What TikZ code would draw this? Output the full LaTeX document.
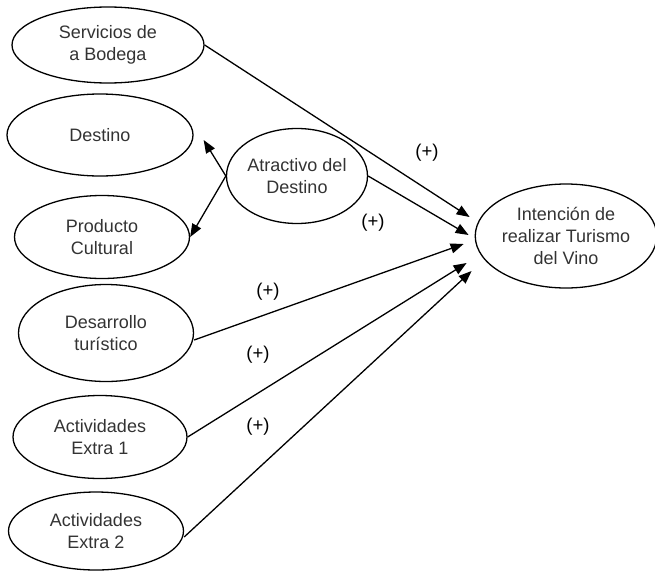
\documentclass[tikz,border=0pt]{standalone}
\usepackage{fontspec}
\setmainfont{Liberation Sans}
\usetikzlibrary{shapes.geometric,arrows.meta,calc}
\begin{document}
\begin{tikzpicture}[x=1pt,y=-1pt,
	var/.style={draw,ellipse,line width=1.3pt,inner sep=0pt,align=center,text=black!80,font=\fontsize{18}{22}\selectfont},
	rel/.style={line width=1.3pt,-{Triangle[length=13pt,width=10pt]}},
	sig/.style={font=\fontsize{18.5}{20}\selectfont}]
		\useasboundingbox (0,0) rectangle (655,573);
		%constructs
		\node[var,minimum width=192pt,minimum height=76pt] (serv) at (108,45) {Servicios de\\a Bodega};
		\node[var,minimum width=186pt,minimum height=82pt] (dest) at (100,135) {Destino};
		\node[var,minimum width=175pt,minimum height=83pt] (prod) at (102,237) {Producto\\Cultural};
		\node[var,minimum width=141pt,minimum height=95pt] (atr) at (297,176) {Atractivo del\\Destino};
		\node[var,minimum width=175pt,minimum height=97pt] (des) at (106,333) {Desarrollo\\tur\'istico};
		\node[var,minimum width=174pt,minimum height=83pt] (ex1) at (100,437) {Actividades\\Extra 1};
		\node[var,minimum width=175pt,minimum height=78pt] (ex2) at (96,531) {Actividades\\Extra 2};
		\node[var,minimum width=174pt,minimum height=104pt] (int) at (566,236) {Intenci\'on de\\realizar Turismo\\del Vino};
		%dimensions
		\draw[rel] (atr.west) -- ($(dest.east)+(10,5)$);
		\draw[rel] (atr.west) -- (prod.east);
		%hypotheses
		\draw[rel] (serv.east) -- ($(int.west)+(-5,-19)$);
		\draw[rel] (atr.east) -- ($(int.west)+(-6,-1)$);
		\draw[rel] ([yshift=-7pt]des.east) -- ($(int.west)+(-11,8)$);
		\draw[rel] (ex1.east) -- ($(int.west)+(-8,27)$);
		\draw[rel] ([yshift=-6pt]ex2.east) -- ($(int.west)+(-3,35)$);
		\node[sig] (p1) at (427,153) {(+)};
		\node[sig] (p2) at (373,223) {(+)};
		\node[sig] (p3) at (268,292) {(+)};
		\node[sig] (p4) at (258,355) {(+)};
		\node[sig] (p5) at (258,427) {(+)};
\end{tikzpicture}
\end{document}
